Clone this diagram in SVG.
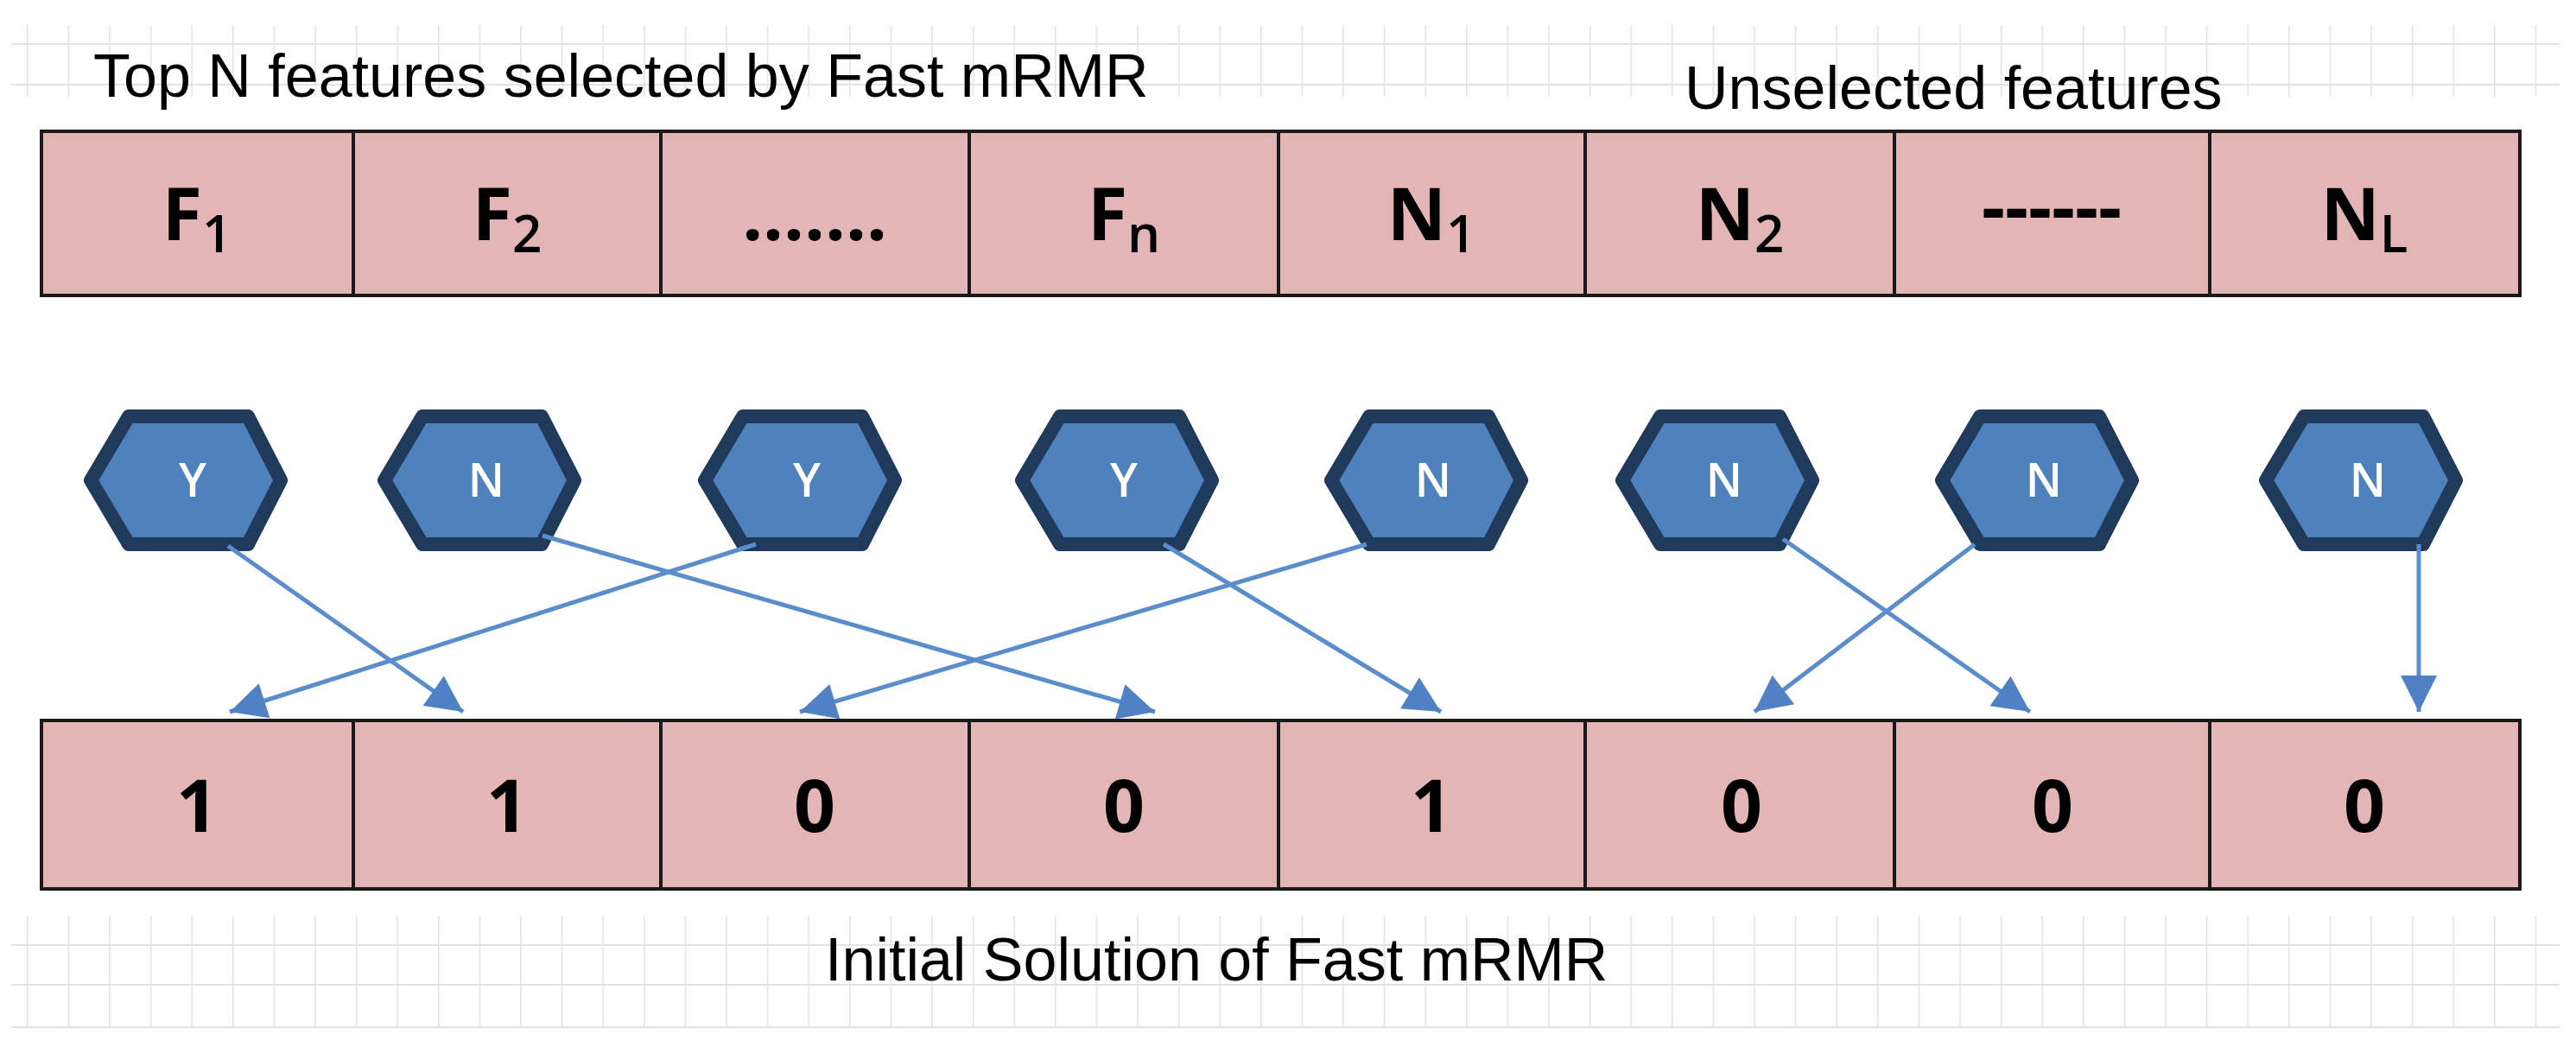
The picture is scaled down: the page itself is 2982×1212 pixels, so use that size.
<svg xmlns="http://www.w3.org/2000/svg" width="2982" height="1212" viewBox="0 0 2982 1212">
<defs>
<pattern id="gv" x="31" y="0" width="47.6" height="50" patternUnits="userSpaceOnUse"><line x1="0.5" y1="0" x2="0.5" y2="50" stroke="#e2e2e2" stroke-width="2"/></pattern>
<marker id="ah" markerWidth="10" markerHeight="8" refX="9" refY="4" orient="auto" markerUnits="userSpaceOnUse" viewBox="0 0 10 8" style="overflow:visible"><path d="M-38,-17 L4,4 L-38,25 Z" fill="#4f81c4" transform="translate(5,0)"/></marker>
<style>
.cell{fill:#e3b5b5;stroke:#1a1a1a;stroke-width:4}
.ct{font-family:"Open Sans","Liberation Sans",sans-serif;font-weight:bold;font-size:84px;fill:#000;text-anchor:middle}
.sub{font-size:60px;font-weight:600}
.hex{fill:#4f81bd;stroke:#1f3a5a;stroke-width:16;stroke-linejoin:round}
.ht{font-family:"Open Sans","Liberation Sans",sans-serif;font-size:54px;font-weight:600;fill:#fff;text-anchor:middle}
.lbl{font-family:"Liberation Sans",Arial,sans-serif;font-size:70px;fill:#000}
.arr{stroke:#5b8dcc;stroke-width:5;fill:none}
</style>
</defs>
<rect width="2982" height="1212" fill="#fff"/>
<g id="grid">
<rect x="13" y="29" width="2950" height="83" fill="url(#gv)"/>
<line x1="13" y1="51" x2="2963" y2="51" stroke="#e2e2e2" stroke-width="2"/>
<line x1="13" y1="98" x2="2963" y2="98" stroke="#e2e2e2" stroke-width="2"/>
<rect x="13" y="1060" width="2950" height="129" fill="url(#gv)"/>
<line x1="13" y1="1094" x2="2963" y2="1094" stroke="#e2e2e2" stroke-width="2"/>
<line x1="13" y1="1140" x2="2963" y2="1140" stroke="#e2e2e2" stroke-width="2"/>
<line x1="13" y1="1189" x2="2963" y2="1189" stroke="#e2e2e2" stroke-width="2"/>
</g>
<g id="labels">
<text class="lbl" x="108" y="112">Top N features selected by Fast mRMR</text>
<text class="lbl" x="1950" y="126">Unselected features</text>
<text class="lbl" x="955" y="1135">Initial Solution of Fast mRMR</text>
</g>
<g id="top-row">
<g id="t1"><rect class="cell" x="48" y="152" width="361" height="190"/><text class="ct" x="228" y="278">F<tspan class="sub" dy="14">1</tspan></text></g>
<g id="t2"><rect class="cell" x="409" y="152" width="356" height="190"/><text class="ct" x="587" y="278">F<tspan class="sub" dy="14">2</tspan></text></g>
<g id="t3"><rect class="cell" x="765" y="152" width="357" height="190"/><text class="ct" x="943" y="278">.......</text></g>
<g id="t4"><rect class="cell" x="1122" y="152" width="358" height="190"/><text class="ct" x="1301" y="278">F<tspan class="sub" dy="14">n</tspan></text></g>
<g id="t5"><rect class="cell" x="1480" y="152" width="355" height="190"/><text class="ct" x="1657" y="278">N<tspan class="sub" dy="14">1</tspan></text></g>
<g id="t6"><rect class="cell" x="1835" y="152" width="358" height="190"/><text class="ct" x="2014" y="278">N<tspan class="sub" dy="14">2</tspan></text></g>
<g id="t7"><rect class="cell" x="2193" y="152" width="365" height="190"/><text class="ct" x="2375" y="270">------</text></g>
<g id="t8"><rect class="cell" x="2558" y="152" width="359" height="190"/><text class="ct" x="2737" y="278">N<tspan class="sub" dy="14">L</tspan></text></g>
</g>
<g id="bottom-row">
<g id="b1"><rect class="cell" x="48" y="834" width="361" height="195"/><text class="ct" x="228" y="963">1</text></g>
<g id="b2"><rect class="cell" x="409" y="834" width="356" height="195"/><text class="ct" x="587" y="963">1</text></g>
<g id="b3"><rect class="cell" x="765" y="834" width="357" height="195"/><text class="ct" x="943" y="963">0</text></g>
<g id="b4"><rect class="cell" x="1122" y="834" width="358" height="195"/><text class="ct" x="1301" y="963">0</text></g>
<g id="b5"><rect class="cell" x="1480" y="834" width="355" height="195"/><text class="ct" x="1657" y="963">1</text></g>
<g id="b6"><rect class="cell" x="1835" y="834" width="358" height="195"/><text class="ct" x="2016" y="963">0</text></g>
<g id="b7"><rect class="cell" x="2193" y="834" width="365" height="195"/><text class="ct" x="2376" y="963">0</text></g>
<g id="b8"><rect class="cell" x="2558" y="834" width="359" height="195"/><text class="ct" x="2737" y="963">0</text></g>
</g>
<g id="hexes">
<g id="h1" transform="translate(215,556)"><polygon class="hex" points="-110,0 -66,-74 72,-74 110,0 72,74 -66,74"/><text class="ht" x="8" y="19">Y</text></g>
<g id="h2" transform="translate(555,556)"><polygon class="hex" points="-110,0 -66,-74 72,-74 110,0 72,74 -66,74"/><text class="ht" x="8" y="19">N</text></g>
<g id="h3" transform="translate(926,556)"><polygon class="hex" points="-110,0 -66,-74 72,-74 110,0 72,74 -66,74"/><text class="ht" x="8" y="19">Y</text></g>
<g id="h4" transform="translate(1293,556)"><polygon class="hex" points="-110,0 -66,-74 72,-74 110,0 72,74 -66,74"/><text class="ht" x="8" y="19">Y</text></g>
<g id="h5" transform="translate(1651,556)"><polygon class="hex" points="-110,0 -66,-74 72,-74 110,0 72,74 -66,74"/><text class="ht" x="8" y="19">N</text></g>
<g id="h6" transform="translate(1988,556)"><polygon class="hex" points="-110,0 -66,-74 72,-74 110,0 72,74 -66,74"/><text class="ht" x="8" y="19">N</text></g>
<g id="h7" transform="translate(2358,556)"><polygon class="hex" points="-110,0 -66,-74 72,-74 110,0 72,74 -66,74"/><text class="ht" x="8" y="19">N</text></g>
<g id="h8" transform="translate(2733,556)"><polygon class="hex" points="-110,0 -66,-74 72,-74 110,0 72,74 -66,74"/><text class="ht" x="8" y="19">N</text></g>
</g>
<g id="connectors">
<line class="arr" x1="264" y1="632" x2="536" y2="824" marker-end="url(#ah)"/>
<line class="arr" x1="628" y1="620" x2="1337" y2="824" marker-end="url(#ah)"/>
<line class="arr" x1="875" y1="630" x2="266" y2="824" marker-end="url(#ah)"/>
<line class="arr" x1="1347" y1="630" x2="1668" y2="824" marker-end="url(#ah)"/>
<line class="arr" x1="1582" y1="630" x2="926" y2="824" marker-end="url(#ah)"/>
<line class="arr" x1="2064" y1="624" x2="2350" y2="824" marker-end="url(#ah)"/>
<line class="arr" x1="2286" y1="630" x2="2031" y2="824" marker-end="url(#ah)"/>
<line class="arr" x1="2800" y1="630" x2="2800" y2="824" marker-end="url(#ah)"/>
</g>
</svg>
